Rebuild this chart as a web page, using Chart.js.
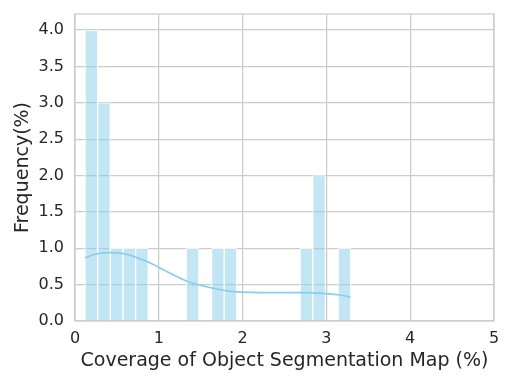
<!DOCTYPE html>
<html>
<head>
<meta charset="utf-8">
<script src="https://cdn.jsdelivr.net/npm/chart.js@4.4.1/dist/chart.umd.min.js"></script>
<style>
    html, body { margin: 0; padding: 0; background: #fff; }
    #wrap { width: 515px; height: 386px; }
</style>
</head>
<body>
<div id="wrap"><canvas id="histChart" width="515" height="386"></canvas></div>
<script>
// histogram bins (centres, % coverage) and counts
const binCenters = [
    0.195, 0.346, 0.497, 0.648, 0.799, 0.950, 1.101, 1.252, 1.403, 1.554,
    1.705, 1.856, 2.007, 2.158, 2.309, 2.460, 2.611, 2.762, 2.913, 3.064, 3.215,
];
const binCounts = [4, 3, 1, 1, 1, 0, 0, 0, 1, 0, 1, 1, 0, 0, 0, 0, 0, 1, 2, 0, 1];

// density curve
const kdeX = [0.12, 0.25, 0.42, 0.6, 0.85, 1.13, 1.33, 1.61, 1.92, 2.32, 2.72, 2.96, 3.14, 3.29];
const kdeY = [0.87, 0.92, 0.94, 0.92, 0.82, 0.66, 0.55, 0.46, 0.40, 0.39, 0.39, 0.38, 0.36, 0.33];

const xTicks = [0, 1, 2, 3, 4, 5];

const gridColor = '#cccccc';
const textColor = '#262626';
const font = 'DejaVu Sans';

const frame = {
    id: 'frame',
    afterDraw(chart) {
        const { ctx, chartArea: a } = chart;
        ctx.save();
        ctx.strokeStyle = gridColor;
        ctx.lineWidth = 1.25;
        ctx.strokeRect(a.left, a.top, a.right - a.left, a.bottom - a.top);
        ctx.restore();
    },
};

new Chart(document.querySelector('#histChart'), {
    data: {
        datasets: [
            {
                type: 'line',
                data: kdeX.map((x, i) => ({ x: x, y: kdeY[i] })),
                borderColor: '#87ceeb',
                borderWidth: 1.6,
                pointRadius: 0,
                tension: 0.4,
                cubicInterpolationMode: 'monotone',
                fill: false,
            },
            {
                type: 'bar',
                data: binCenters.map((x, i) => ({ x: x, y: binCounts[i] })),
                backgroundColor: 'rgba(135, 206, 235, 0.5)',
                borderColor: 'rgba(255, 255, 255, 0.8)',
                borderWidth: 1,
                barPercentage: 1,
                categoryPercentage: 1,
            },
        ],
    },
    options: {
        responsive: false,
        animation: false,
        layout: { padding: { top: 14, right: 21, left: 0, bottom: 0 } },
        plugins: {
            legend: { display: false },
            tooltip: { enabled: false },
        },
        scales: {
            x: {
                type: 'linear',
                min: 0,
                max: 5,
                offset: false,
                afterBuildTicks: (s) => { s.ticks = xTicks.map((v) => ({ value: v })); },
                afterFit: (s) => { s.height = 65; s.paddingRight = 0; s.paddingLeft = 0; },
                grid: { color: gridColor, lineWidth: 1.25, drawTicks: false, offset: false },
                border: { display: false },
                ticks: {
                    color: textColor,
                    padding: 8,
                    font: { family: font, size: 16 },
                },
                title: {
                    display: true,
                    text: 'Coverage of Object Segmentation Map (%)',
                    color: textColor,
                    padding: { top: 0, bottom: 14 },
                    font: { family: font, size: 19 },
                },
            },
            y: {
                min: 0,
                max: 4.22,
                afterFit: (s) => { s.width = 75; s.paddingTop = 0; s.paddingBottom = 0; },
                grid: { color: gridColor, lineWidth: 1.25, drawTicks: false },
                border: { display: false },
                ticks: {
                    stepSize: 0.5,
                    includeBounds: false,
                    color: textColor,
                    padding: 11,
                    font: { family: font, size: 16 },
                    callback: (v) => v.toFixed(1),
                },
                title: {
                    display: true,
                    text: 'Frequency(%)',
                    color: textColor,
                    padding: { top: 12, bottom: 0 },
                    font: { family: font, size: 19 },
                },
            },
        },
    },
    plugins: [frame],
});
</script>
</body>
</html>
